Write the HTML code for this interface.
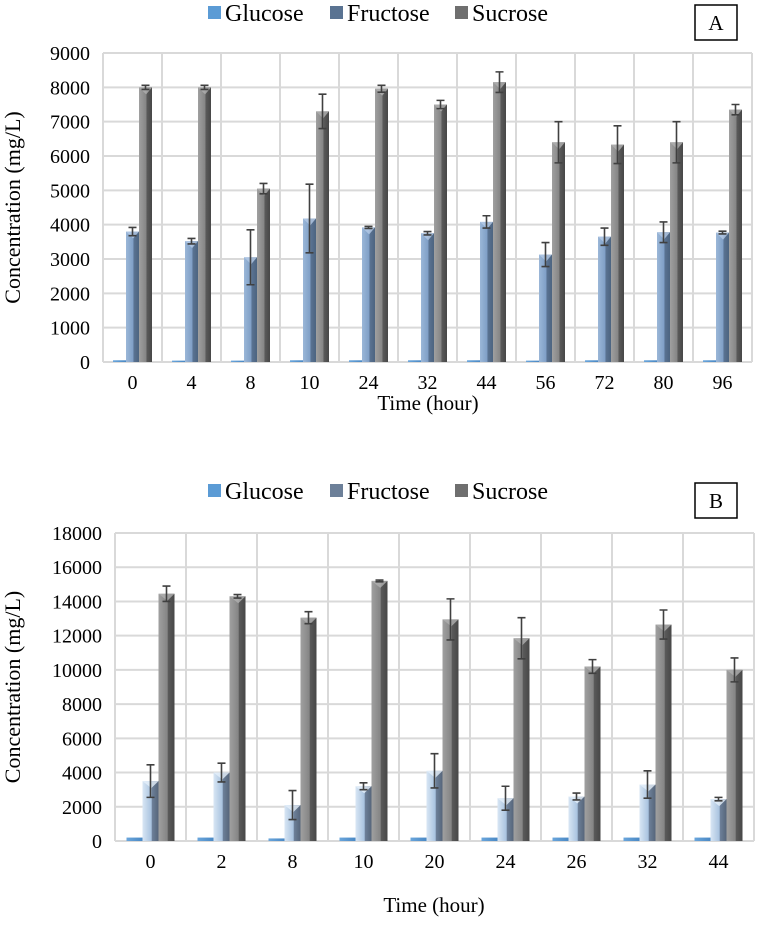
<!DOCTYPE html>
<html><head><meta charset="utf-8"><style>
body{margin:0;background:#fff;width:762px;height:921px;overflow:hidden}
svg{font-family:"Liberation Serif",serif}
</style></head><body>
<svg id="svg" width="762" height="921" xmlns="http://www.w3.org/2000/svg">
<defs>
<linearGradient id="gG" x1="0" x2="1"><stop offset="0" stop-color="#6aa6dc"/><stop offset="1" stop-color="#4a88c4"/></linearGradient>
<linearGradient id="gFA" x1="0" x2="1"><stop offset="0" stop-color="#9bb7d8"/><stop offset="0.55" stop-color="#7f9fc6"/><stop offset="0.6" stop-color="#5a7392"/><stop offset="1" stop-color="#4c6480"/></linearGradient>
<linearGradient id="gFB" x1="0" x2="1"><stop offset="0" stop-color="#d8e6f4"/><stop offset="0.55" stop-color="#a9c3df"/><stop offset="0.6" stop-color="#6d8099"/><stop offset="1" stop-color="#56657a"/></linearGradient>
<linearGradient id="gS" x1="0" x2="1"><stop offset="0" stop-color="#a0a0a0"/><stop offset="0.55" stop-color="#858585"/><stop offset="0.6" stop-color="#5a5a5a"/><stop offset="1" stop-color="#474747"/></linearGradient>
</defs>
</svg>
<script>
const catsA=["0","4","8","10","24","32","44","56","72","80","96"];
const gluA=[50,40,40,50,50,50,50,40,50,50,50];
const fruA=[3800,3520,3050,4180,3920,3750,4080,3130,3650,3780,3770];
const fruErrA=[120,80,800,1000,30,50,180,350,250,300,40];
const sucA=[8000,8000,5050,7300,7960,7500,8150,6400,6330,6400,7350];
const sucErrA=[60,60,150,500,100,120,300,600,550,600,150];
const ticksA=[0,1000,2000,3000,4000,5000,6000,7000,8000,9000];

const catsB=["0","2","8","10","20","24","26","32","44"];
const gluB=[200,200,150,200,200,200,200,200,200];
const fruB=[3500,4000,2100,3200,4100,2500,2600,3300,2450];
const fruErrB=[950,550,850,200,1000,700,200,800,100];
const sucB=[14450,14300,13050,15200,12950,11850,10200,12650,10000];
const sucErrB=[450,100,350,50,1200,1200,400,850,700];
const ticksB=[0,2000,4000,6000,8000,10000,12000,14000,16000,18000];

const svg=document.getElementById('svg');
const NS="http://www.w3.org/2000/svg";
function mk(tag,attrs,parent){const e=document.createElementNS(NS,tag);for(const k in attrs)e.setAttribute(k,attrs[k]);(parent||svg).appendChild(e);return e;}

function chart(o){
  const g=mk('g',{});
  
  
  const y=v=>o.bottom-(v/o.max)*(o.bottom-o.top);
  const cw=(o.right-o.left)/o.cats.length;
  const x=i=>o.left+i*cw;
  o.ticks.forEach(t=>{
    const l=mk('line',{x1:o.left,x2:o.right,y1:y(t),y2:y(t),stroke:'#d9d9d9','stroke-width':2},g);
    
    
    const tx=mk('text',{x:o.left-13,y:y(t)+7,'text-anchor':'end','font-size':20,fill:'#000'},g);
    tx.textContent=t;
    
    
  });
  for(let i=0;i<=o.cats.length;i++){
    const l=mk('line',{x1:x(i),x2:x(i),y1:o.top,y2:o.bottom,stroke:'#d9d9d9','stroke-width':2},g);
    
    
  }
  const bw=o.bw;
  o.cats.forEach((c,i)=>{
    const cx=x(i)+cw/2;
    const series=[[o.glu,null,'url(#gG)','glucose'],[o.fru,o.fruErr,o.fFill,'fructose'],[o.suc,o.sucErr,'url(#gS)','sucrose']];
    series.forEach((s,k)=>{
      const v=s[0][i];
      const bx=cx-1.5*bw+k*bw;
      const r=mk('rect',{x:bx,y:y(v),width:bw,height:o.bottom-y(v),fill:s[2]},g);
      
      
      if(k>0&&v>500){
        const tri=mk('polygon',{points:`${bx},${y(v)} ${bx+bw},${y(v)} ${bx+bw*0.55},${y(v)+7}`,fill:k==2?'#b0b0b0':(o.fFill=='url(#gFB)'?'#e6f0fa':'#b5cbe6'),opacity:0.8},g);
        
        
      }
      if(s[1]){
        const e=s[1][i], ex=bx+bw/2;
        const p=mk('path',{d:`M${ex},${y(v+e)}V${y(v-e)}M${ex-4},${y(v+e)}H${ex+4}M${ex-4},${y(v-e)}H${ex+4}`,stroke:'#404040','stroke-width':1.6,fill:'none'},g);
        
        
      }
    });
    const tx=mk('text',{x:cx,y:o.bottom+27,'text-anchor':'middle','font-size':20},g);
    tx.textContent=c;
    
    
  });
  const xt=mk('text',{x:o.xtx,y:o.xty,'text-anchor':'middle','font-size':21},g);
  xt.textContent='Time (hour)';
  
  
  const yt=mk('text',{x:0,y:0,'text-anchor':'middle','font-size':22,transform:`translate(${o.ytx},${(o.top+o.bottom)/2}) rotate(-90)`},g);
  yt.textContent='Concentration  (mg/L)';
  
  
  const lg=mk('g',{},g);
  
  
  const items=[['Glucose','#5b9bd5'],['Fructose',o.fSw],['Sucrose','#6f6f6f']];
  const sx=[208,330,455];
  items.forEach((it,k)=>{
    const r=mk('rect',{x:sx[k],y:o.ly-15,width:13,height:13,fill:it[1]},lg);
    
    
    const t=mk('text',{x:sx[k]+17,y:o.ly,'font-size':24},lg);
    t.textContent=it[0];
    
    
  });
  const b=mk('rect',{x:695,y:o.by,width:42,height:35,fill:'#fff',stroke:'#000','stroke-width':1.5},g);
  
  
  const bt=mk('text',{x:716,y:o.by+25,'text-anchor':'middle','font-size':21},g);
  bt.textContent=o.label;
  
  
}
chart({name:'chart-a',cats:catsA,glu:gluA,fru:fruA,fruErr:fruErrA,suc:sucA,sucErr:sucErrA,ticks:ticksA,max:9000,
 left:103,right:752,top:53,bottom:362,bw:13,fFill:'url(#gFA)',fSw:'#5a7392',ly:21,by:5,label:'A',xtx:428,xty:410,ytx:20});
chart({name:'chart-b',cats:catsB,glu:gluB,fru:fruB,fruErr:fruErrB,suc:sucB,sucErr:sucErrB,ticks:ticksB,max:18000,
 left:115,right:754,top:533,bottom:841,bw:16,fFill:'url(#gFB)',fSw:'#6d8099',ly:499,by:483,label:'B',xtx:434,xty:912,ytx:20});
</script>
</body></html>
